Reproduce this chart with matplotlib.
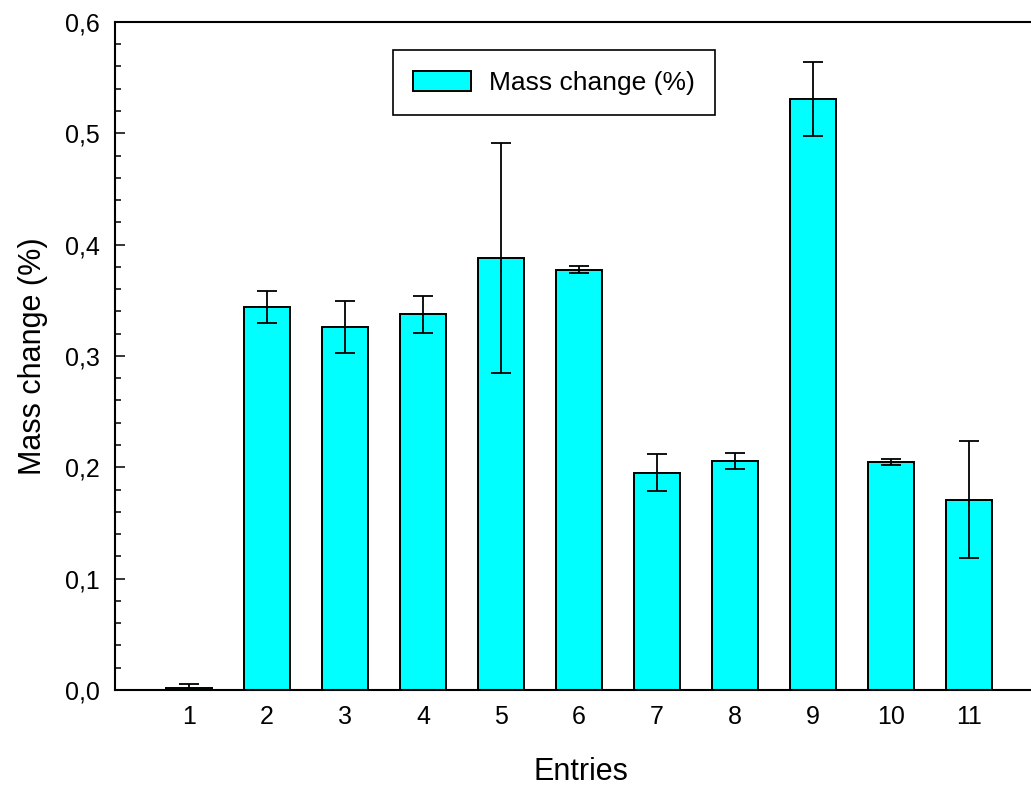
import matplotlib
matplotlib.use("Agg")
from matplotlib import pyplot as plt
from matplotlib.ticker import MultipleLocator, FuncFormatter

entries = [1, 2, 3, 4, 5, 6, 7, 8, 9, 10, 11]
mass_change = [0.002, 0.344, 0.326, 0.3375, 0.388, 0.3776, 0.1953, 0.2055, 0.5307, 0.2049, 0.171]
mass_err = [0.003, 0.0147, 0.0235, 0.0165, 0.103, 0.0028, 0.0165, 0.007, 0.033, 0.0026, 0.0527]

plt.rcParams['font.family'] = ['Liberation Sans', 'DejaVu Sans']

fig = plt.figure(figsize=(10.31, 7.87), dpi=100)
ax = fig.add_axes([0.1115, 0.1233, 0.904, 0.8488])

ax.bar(entries, mass_change, width=0.6, color="#00FFFF", edgecolor="black",
       linewidth=1.4, label="Mass change (%)", zorder=2)
ax.errorbar(entries, mass_change, yerr=mass_err, fmt="none", ecolor="black",
            elinewidth=1.3, capsize=7.5, capthick=1.3, zorder=3)

ax.set_xlim(0.05, 12)
ax.set_ylim(0, 0.6)
ax.set_xticks(entries)
ax.yaxis.set_major_locator(MultipleLocator(0.1))
ax.yaxis.set_minor_locator(MultipleLocator(0.02))
ax.yaxis.set_major_formatter(FuncFormatter(lambda v, p: f"{v:.1f}".replace(".", ",")))

ax.tick_params(axis="x", length=0, pad=11, labelsize=18)
ax.tick_params(axis="y", which="major", direction="in", length=7, width=1.1,
               labelsize=18, pad=11)
ax.tick_params(axis="y", which="minor", direction="in", length=4, width=1.1)
for s in ax.spines.values():
    s.set_linewidth(1.5)

ax.set_xlabel("Entries", fontsize=22, labelpad=20)
ax.set_ylabel("Mass change (%)", fontsize=22, labelpad=12)

leg = ax.legend(loc="upper center", bbox_to_anchor=(0.471, 0.958), fontsize=19,
                fancybox=False, edgecolor="black", framealpha=1,
                handlelength=2.2, handleheight=0.8, borderpad=0.78,
                handletextpad=0.65, borderaxespad=0)
leg.get_frame().set_linewidth(1.2)

fig.savefig("out.png", dpi=100)
